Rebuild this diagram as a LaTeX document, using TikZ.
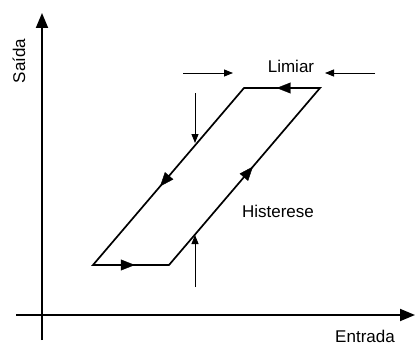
\documentclass[tikz,border=0pt]{standalone}
\usepackage{fontspec}
\setmainfont{Liberation Sans}
\usetikzlibrary{arrows.meta,decorations.markings}
\begin{document}
\begin{tikzpicture}[x=1pt,y=-1pt,
  axis/.style={line width=1.8pt,-{Triangle[length=15pt,width=12pt]}},
  loop/.style={line width=1.7pt,line join=miter},
  mid/.style={postaction={decorate,decoration={markings,mark=at position #1 with {\arrow{Triangle[length=14pt,width=11pt]}}}}},
  small/.style={line width=0.8pt,-{Triangle[length=9pt,width=7pt]}},
  lbl/.style={font=\fontsize{17}{20}\selectfont,inner sep=0pt}]
\useasboundingbox (0,0) rectangle (415,345);
% axes
\coordinate (yb) at (42,340);
\coordinate (yt) at (42,13);
\coordinate (xl) at (16,315);
\coordinate (xr) at (415,315);
\draw[axis] (yb) -- (yt);
\draw[axis] (xl) -- (xr);
% loop corners
\coordinate (tr) at (320,88);
\coordinate (tl) at (244,88);
\coordinate (bl) at (93,265);
\coordinate (br) at (169,265);
\draw[loop] (tr) -- (tl) -- (bl) -- (br) -- cycle;
\path[mid=0.57] (tr) -- (tl);
\path[mid=0.556] (tl) -- (bl);
\path[mid=0.55] (bl) -- (br);
\path[mid=0.556] (br) -- (tr);
% threshold arrows
\coordinate (a1s) at (183,73); \coordinate (a1e) at (233,73);
\coordinate (a2s) at (375,73); \coordinate (a2e) at (325,73);
\draw[small] (a1s) -- (a1e);
\draw[small] (a2s) -- (a2e);
\coordinate (d1s) at (195,93); \coordinate (d1e) at (195,143);
\coordinate (u1s) at (195,287); \coordinate (u1e) at (195,235);
\draw[small] (d1s) -- (d1e);
\draw[small] (u1s) -- (u1e);
% labels
\node[lbl] (limiar) at (291,66) {Limiar};
\node[lbl] (hist) at (278,211) {Histerese};
\node[lbl,rotate=90] (saida) at (19,61) {Saída};
\node[lbl] (entrada) at (365,336) {Entrada};
\end{tikzpicture}
\end{document}
